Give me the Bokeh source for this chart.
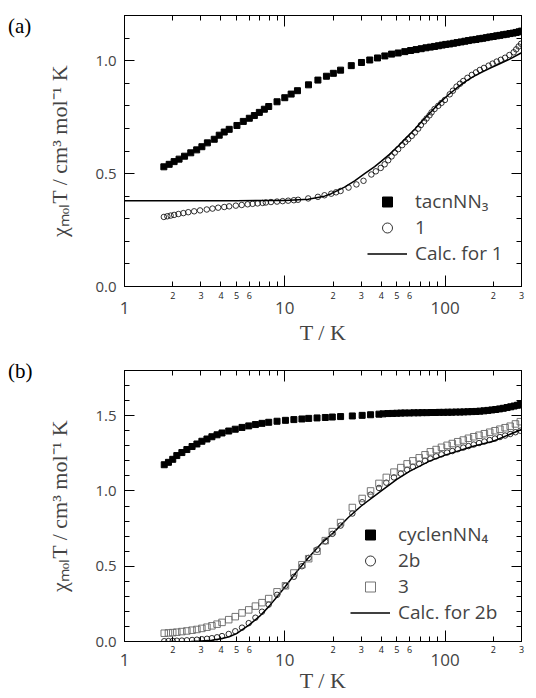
from bokeh.plotting import figure
from bokeh.models import Range1d, FixedTicker, LogAxis, LinearAxis, Legend, LegendItem, Div
from bokeh.layouts import column, row
from bokeh.embed import file_html
from bokeh.resources import INLINE

# ---------------- tick data ----------------
x_decades = [1, 10, 100]
x_decade_labels = ["1", "10", "100"]
x_sub_ticks = [2, 3, 4, 5, 6, 7, 8, 9, 20, 30, 40, 50, 60, 70, 80, 90, 200, 300]
x_sub_labels = ["2", "3", "4", "5", "6", "", "", "", "2", "3", "4", "5", "6", "", "", "", "2", "3"]

ya_major = [0.0, 0.5, 1.0]
ya_major_labels = ["0.0", "0.5", "1.0"]
ya_minor = [0.1, 0.2, 0.3, 0.4, 0.6, 0.7, 0.8, 0.9, 1.1, 1.2]

yb_major = [0.0, 0.5, 1.0, 1.5]
yb_major_labels = ["0.0", "0.5", "1.0", "1.5"]
yb_minor = [0.1, 0.2, 0.3, 0.4, 0.6, 0.7, 0.8, 0.9, 1.1, 1.2, 1.3, 1.4, 1.6, 1.7, 1.8]

# ---------------- panel (a) data ----------------
tacn_T = [1.76, 1.90, 2.04, 2.19, 2.37, 2.59, 2.82, 3.04, 3.29, 3.63, 3.90, 4.19, 4.50, 5.03, 5.51,
          6.01, 6.46, 6.94, 7.46, 7.94, 8.95, 10.0, 10.96, 12.0, 14.06, 16.1, 18.2, 20.1, 22.3, 26.0,
          30.1, 33.9, 37.9, 42.1, 46.4, 51.0, 56.1, 61, 66, 71, 76, 81, 86, 91, 96, 101,
          107, 113, 119, 126, 133, 140, 148, 156, 164, 172, 181, 190, 200, 210, 220, 231, 242,
          254, 266, 278, 290, 300]
tacn_chiT = [0.530, 0.541, 0.553, 0.564, 0.577, 0.592, 0.605, 0.619, 0.636, 0.652, 0.670, 0.684, 0.696,
             0.713, 0.731, 0.745, 0.757, 0.771, 0.785, 0.797, 0.818, 0.836, 0.852, 0.867, 0.893, 0.914,
             0.931, 0.944, 0.958, 0.978, 0.992, 1.003, 1.012, 1.021, 1.029, 1.034, 1.040, 1.045, 1.049,
             1.053, 1.057, 1.060, 1.063, 1.066, 1.069, 1.072,
             1.074, 1.077, 1.080, 1.083, 1.086, 1.089, 1.092, 1.094, 1.097, 1.099, 1.102, 1.105, 1.107,
             1.110, 1.112, 1.115, 1.117, 1.120, 1.122, 1.125, 1.128, 1.131]

c1_T = [1.76, 1.85, 1.94, 2.04, 2.17, 2.33, 2.50, 2.72, 2.96, 3.26, 3.54, 3.84, 4.19, 4.50, 4.95,
        5.39, 5.87, 6.30, 6.77, 7.28, 7.62, 8.20, 8.95, 9.70, 10.5, 11.4, 12.1, 14.0, 16.1, 17.7,
        19.5, 20.9, 22.3, 25.0, 28.0, 31.0, 34.7, 37.0, 39.7, 42.0, 44.2, 46.4, 48.6, 51.0, 54.0,
        56.5, 58.9, 62.0, 64.9, 68.0, 70.7, 74.0, 76.7, 80.0, 82.4, 86.0, 90.7, 95.0, 99.8, 107,
        112, 118, 124, 130, 138, 147, 156, 165, 175, 187, 198, 210, 223, 237, 252, 268, 278, 288, 298]
c1_chiT = [0.308, 0.311, 0.314, 0.317, 0.321, 0.325, 0.329, 0.333, 0.337, 0.341, 0.345, 0.349, 0.352,
           0.355, 0.358, 0.361, 0.364, 0.366, 0.368, 0.370, 0.372, 0.374, 0.376, 0.378, 0.380, 0.382,
           0.384, 0.390, 0.397, 0.404, 0.411, 0.417, 0.423, 0.438, 0.452, 0.468, 0.496, 0.510, 0.525,
           0.541, 0.559, 0.576, 0.593, 0.608, 0.626, 0.640, 0.652, 0.667, 0.682, 0.699, 0.715, 0.731,
           0.744, 0.758, 0.771, 0.786, 0.800, 0.813, 0.826, 0.851, 0.867, 0.885, 0.898, 0.910, 0.924,
           0.937, 0.948, 0.959, 0.968, 0.978, 0.987, 0.996, 1.004, 1.013, 1.025, 1.037, 1.050, 1.063, 1.075]

calc1_T = [1, 2, 5, 10, 14, 17.7, 19.5, 23.6, 27.3, 31.5, 36.4, 40.1, 45, 51, 57, 64.9, 72, 82.4,
           92, 105, 118, 133, 150, 169, 190, 216, 250, 300]
calc1_chiT = [0.380, 0.380, 0.380, 0.381, 0.386, 0.400, 0.411, 0.440, 0.468, 0.500, 0.531, 0.555,
              0.585, 0.622, 0.657, 0.697, 0.733, 0.776, 0.812, 0.849, 0.878, 0.906, 0.929, 0.948,
              0.966, 0.984, 1.005, 1.035]

# ---------------- panel (b) data ----------------
cyc_T = [1.77, 1.88, 2.0, 2.12, 2.28, 2.45, 2.64, 2.83, 3.04, 3.27, 3.51, 3.78, 4.06, 4.47, 4.91,
         5.41, 5.96, 6.56, 7.21, 7.94, 8.95, 10.1, 11.4, 12.8, 14.1, 15.9, 17.9, 19.8, 22.3, 26.4,
         30.4, 34.3, 38.7, 41, 44, 47, 50, 53, 56, 60, 64, 68, 72, 77, 82, 87, 92, 98, 104, 110,
         117, 124, 131, 139, 147, 156, 165, 175, 185, 196, 207, 219, 231, 244, 257, 270, 283, 295, 300]
cyc_chiT = [1.174, 1.190, 1.210, 1.235, 1.255, 1.275, 1.295, 1.312, 1.330, 1.345, 1.360, 1.373, 1.385,
            1.398, 1.410, 1.422, 1.432, 1.441, 1.449, 1.456, 1.463, 1.469, 1.474, 1.478, 1.482, 1.485,
            1.488, 1.491, 1.494, 1.498, 1.502, 1.506, 1.510, 1.512, 1.514, 1.515, 1.516, 1.517, 1.518,
            1.518, 1.519, 1.519, 1.520, 1.520, 1.521, 1.521, 1.522, 1.522, 1.523, 1.523, 1.524, 1.524,
            1.525, 1.526, 1.527, 1.528, 1.530, 1.532, 1.535, 1.538, 1.541, 1.545, 1.549, 1.554, 1.559,
            1.564, 1.569, 1.574, 1.577]

c2b_T = [1.77, 1.88, 2.0, 2.12, 2.28, 2.45, 2.64, 2.83, 3.04, 3.27, 3.51, 3.78, 4.06, 4.47, 4.91,
         5.41, 5.96, 6.56, 7.21, 7.94, 8.95, 10.1, 11.4, 12.8, 14.1, 15.9, 17.9, 19.8, 22.3, 26.4,
         30.4, 34.3, 38.7, 43, 48, 53, 58, 63, 69, 75, 81, 88, 95, 103, 111, 120, 130, 140, 151, 163,
         176, 190, 205, 220, 237, 255, 275, 295]
c2b_chiT = [0.002, 0.003, 0.004, 0.005, 0.006, 0.008, 0.010, 0.012, 0.015, 0.018, 0.022, 0.028, 0.036,
            0.050, 0.068, 0.092, 0.122, 0.158, 0.198, 0.245, 0.31, 0.37, 0.43, 0.50, 0.555, 0.61, 0.665,
            0.715, 0.77, 0.85, 0.925, 0.975, 1.02, 1.055, 1.09, 1.115, 1.14, 1.16, 1.18, 1.20, 1.215,
            1.23, 1.243, 1.255, 1.265, 1.277, 1.288, 1.298, 1.308, 1.318, 1.328, 1.338, 1.348, 1.358,
            1.368, 1.378, 1.39, 1.40]

c3_T = [1.77, 1.88, 2.0, 2.12, 2.28, 2.45, 2.64, 2.83, 3.04, 3.27, 3.51, 3.78, 4.06, 4.47, 4.91,
        5.41, 5.96, 6.56, 7.21, 7.94, 8.95, 10.1, 11.4, 12.8, 14.1, 15.9, 17.9, 19.8, 22.3, 26.4,
        30.4, 34.3, 38.7, 43, 48, 53, 58, 63, 69, 75, 81, 88, 95, 103, 111, 120, 130, 140, 151, 163,
        176, 190, 205, 220, 237, 255, 275, 295]
c3_chiT = [0.055, 0.057, 0.059, 0.062, 0.066, 0.070, 0.075, 0.080, 0.087, 0.095, 0.104, 0.115, 0.127,
           0.145, 0.165, 0.190, 0.210, 0.235, 0.258, 0.285, 0.33, 0.37, 0.455, 0.51, 0.55, 0.60, 0.67,
           0.73, 0.79, 0.89, 0.95, 1.00, 1.05, 1.09, 1.125, 1.155, 1.18, 1.20, 1.22, 1.24, 1.26, 1.275,
           1.29, 1.303, 1.315, 1.327, 1.338, 1.35, 1.36, 1.37, 1.38, 1.39, 1.40, 1.41, 1.42, 1.43, 1.445, 1.46]

calc2b_T = [2.6, 3, 3.5, 4, 4.5, 5, 6, 7, 8, 9, 10, 12, 14, 17, 20, 25, 30, 40, 50, 60, 80, 100, 150, 200, 300]
calc2b_chiT = [0.0, 0.003, 0.008, 0.018, 0.032, 0.052, 0.11, 0.17, 0.235, 0.30, 0.36, 0.47, 0.555,
               0.655, 0.72, 0.825, 0.90, 1.0, 1.077, 1.13, 1.198, 1.238, 1.297, 1.33, 1.408]

SANS = "Open Sans"
SERIF = "Liberation Serif"
YLABEL = "χₘₒₗT / cm³ mol⁻¹ K"
DIV_W = 40
FIG_W = 536 - DIV_W
LEFT = 124 - DIV_W
RIGHT = 15


def make_panel(height, border_top, border_bottom, ymax, ymaj, ymaj_lab, ymin,
               sub_standoff, dec_standoff, title_standoff):
    p = figure(width=FIG_W, height=height, x_axis_type="log",
               x_range=Range1d(1, 300), y_range=Range1d(0, ymax),
               output_backend="svg", toolbar_location=None,
               min_border_left=LEFT, min_border_right=RIGHT,
               min_border_top=border_top, min_border_bottom=border_bottom)
    p.xgrid.visible = False
    p.ygrid.visible = False
    p.outline_line_color = "black"
    p.outline_line_width = 1
    p.background_fill_color = "white"
    p.border_fill_color = "white"

    # axis 1 (below): sub-decade ticks and small labels, decades as long ticks
    ax = p.xaxis[0]
    ax.ticker = FixedTicker(ticks=x_sub_ticks, minor_ticks=x_decades)
    ax.major_label_overrides = dict(zip(x_sub_ticks, x_sub_labels))
    ax.major_label_text_font = SANS
    ax.major_label_text_font_size = "9px"
    ax.major_label_text_color = "#222222"
    ax.major_label_standoff = sub_standoff
    ax.major_tick_in = 5
    ax.major_tick_out = 0
    ax.minor_tick_in = 11
    ax.minor_tick_out = 0
    ax.axis_line_color = "black"
    ax.major_tick_line_color = "black"
    ax.minor_tick_line_color = "black"

    # axis 2 (below): decade labels + title
    ax2 = LogAxis(ticker=FixedTicker(ticks=x_decades, minor_ticks=[]),
                  major_label_overrides=dict(zip(x_decades, x_decade_labels)),
                  major_label_text_font=SANS, major_label_text_font_size="17px",
                  major_label_standoff=dec_standoff,
                  axis_line_color=None, major_tick_line_color=None, minor_tick_line_color=None,
                  major_tick_in=0, major_tick_out=0,
                  axis_label="T / K", axis_label_text_font=SERIF,
                  axis_label_text_font_size="22px", axis_label_text_font_style="normal",
                  axis_label_standoff=title_standoff)
    p.add_layout(ax2, "below")

    # top axis
    axt = LogAxis(ticker=FixedTicker(ticks=x_sub_ticks, minor_ticks=x_decades),
                  major_label_overrides={t: "" for t in x_sub_ticks},
                  major_label_text_font_size="1px", major_label_standoff=0,
                  major_tick_in=5, major_tick_out=0, minor_tick_in=11, minor_tick_out=0)
    p.add_layout(axt, "above")

    # left axis
    ay = p.yaxis[0]
    ay.ticker = FixedTicker(ticks=ymaj, minor_ticks=ymin)
    ay.major_label_overrides = dict(zip(ymaj, ymaj_lab))
    ay.major_label_text_font = SANS
    ay.major_label_text_font_size = "15px"
    ay.major_label_standoff = 8
    ay.major_tick_in = 10
    ay.major_tick_out = 0
    ay.minor_tick_in = 5
    ay.minor_tick_out = 0
    ay.axis_label = YLABEL
    ay.axis_label_text_font = SERIF
    ay.axis_label_text_font_size = "22px"
    ay.axis_label_text_font_style = "normal"
    ay.axis_label_standoff = 20

    # right axis
    ayr = LinearAxis(ticker=FixedTicker(ticks=ymaj, minor_ticks=ymin),
                     major_label_overrides={t: "" for t in ymaj},
                     major_label_text_font_size="1px", major_label_standoff=0,
                     major_tick_in=10, major_tick_out=0, minor_tick_in=5, minor_tick_out=0)
    p.add_layout(ayr, "right")
    return p


def panel_label(text, height, pad_top):
    html = ('<div style="padding:%dpx 0 0 8px; font-family:\'Liberation Serif\'; '
            'font-size:21px; line-height:24px; color:black;">%s</div>' % (pad_top, text))
    return Div(text=html, width=DIV_W, height=height, margin=0)


# ---------------- panel (a) ----------------
H_A, H_B = 351, 347
pa = make_panel(H_A, 15, 65, 1.2, ya_major, ya_major_labels, ya_minor, 5, 0, 3)
ra_line = pa.line(calc1_T, calc1_chiT, line_color="black", line_width=1.5)
ra_circ = pa.scatter(c1_T, c1_chiT, marker="circle", size=5.5, fill_color=None,
                     line_color="black", line_width=0.8)
ra_sq = pa.scatter(tacn_T, tacn_chiT, marker="square", size=6, fill_color="black", line_color="black")
leg_a = Legend(items=[LegendItem(label="tacnNN₃", renderers=[ra_sq]),
                      LegendItem(label="1", renderers=[ra_circ]),
                      LegendItem(label="Calc. for 1", renderers=[ra_line])],
               location=(243, 20), padding=0, margin=0, spacing=0,
               label_height=25, glyph_height=25, glyph_width=40, label_standoff=8,
               label_text_font=SANS, label_text_font_size="19px",
               border_line_alpha=0, background_fill_alpha=0)
pa.add_layout(leg_a)

# ---------------- panel (b) ----------------
pb = make_panel(H_B, 19, 57, 1.8, yb_major, yb_major_labels, yb_minor, 4, -2, -1)
rb_line = pb.line(calc2b_T, calc2b_chiT, line_color="black", line_width=1.5)
rb_circ = pb.scatter(c2b_T, c2b_chiT, marker="circle", size=5.5, fill_color=None,
                     line_color="black", line_width=0.8)
rb_sq3 = pb.scatter(c3_T, c3_chiT, marker="square", size=6.5, fill_color=None,
                    line_color="#666666", line_width=0.9)
rb_sq = pb.scatter(cyc_T, cyc_chiT, marker="square", size=6, fill_color="black", line_color="black")
leg_b = Legend(items=[LegendItem(label="cyclenNN₄", renderers=[rb_sq]),
                      LegendItem(label="2b", renderers=[rb_circ]),
                      LegendItem(label="3", renderers=[rb_sq3]),
                      LegendItem(label="Calc. for 2b", renderers=[rb_line])],
               location=(226, 16), padding=0, margin=0, spacing=0,
               label_height=25, glyph_height=25, glyph_width=40, label_standoff=8,
               label_text_font=SANS, label_text_font_size="19px",
               border_line_alpha=0, background_fill_alpha=0)
pb.add_layout(leg_b)

layout = column(row(panel_label("(a)", H_A, 14), pa, spacing=0),
                row(panel_label("(b)", H_B, 8), pb, spacing=0),
                spacing=0)
open("out.html", "w").write(file_html(layout, INLINE))
